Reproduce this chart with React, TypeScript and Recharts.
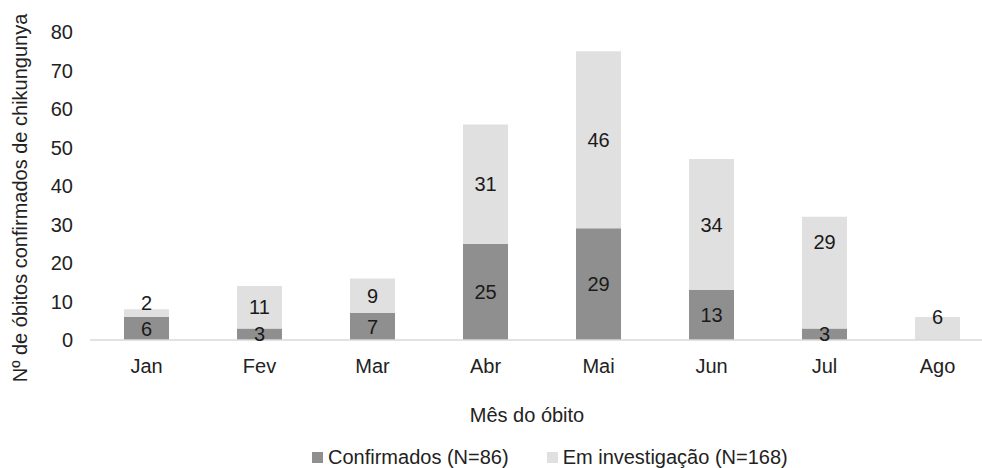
import { Bar, BarChart, LabelList, XAxis, YAxis } from 'recharts'

const months = ['Jan', 'Fev', 'Mar', 'Abr', 'Mai', 'Jun', 'Jul', 'Ago']
const confirmados = [6, 3, 7, 25, 29, 13, 3, 0]
const emInvestigacao = [2, 11, 9, 31, 46, 34, 29, 6]
const yTicks = [0, 10, 20, 30, 40, 50, 60, 70, 80]

const seriesNames = ['Confirmados (N=86)', 'Em investigação (N=168)']
const seriesColors = ['#8f8f8f', '#e0e0e0']

// hand-placed label nudges in the original (px, per month)
const confirmadosLabelShift = [0, 0, 0, 0, 0, 0, 0, 0]
const investigacaoLabelShift = [-10, 0, 0, 0, 0, 0, -31, -12]

const data = months.map((month, i) => ({
  month,
  confirmados: confirmados[i],
  investigacao: emInvestigacao[i]
}))

const FONT = '"Liberation Sans", Arial, sans-serif'
const TEXT = '#222222'

const makeLabel = (shifts: number[]) => (props: any) => {
  const { value, index } = props
  const vb = props.viewBox || props
  if (value === undefined || value === null || Number(value) === 0) return null
  const x = vb.x + vb.width / 2
  const y = vb.y + vb.height / 2 + (shifts[index] ?? 0)
  return (
    <text x={x} y={y} dy="0.355em" textAnchor="middle" fontSize={20} fill="#1a1a1a" fontFamily={FONT}>
      {value}
    </text>
  )
}

export default function App() {
  return (
    <div
      style={{
        position: 'absolute',
        left: 0,
        top: 0,
        width: 982,
        height: 468,
        overflow: 'hidden',
        background: '#ffffff',
        fontFamily: FONT
      }}
    >
      <BarChart
        width={1000}
        height={468}
        data={data}
        margin={{ top: 32, right: 6, left: 0, bottom: 68 }}
        style={{ fontFamily: FONT }}
      >
        <XAxis
          dataKey="month"
          tickLine={false}
          axisLine={{ stroke: '#d9d9d9', strokeWidth: 1.5 }}
          tick={{ fill: TEXT, fontSize: 20 }}
          tickMargin={13}
          height={60}
          interval={0}
          label={{
            content: () => (
              <text x={527} y={415} textAnchor="middle" dominantBaseline="central" fontSize={20} fill={TEXT}>
                Mês do óbito
              </text>
            )
          }}
        />
        <YAxis
          width={90}
          domain={[0, 80]}
          ticks={yTicks}
          tickLine={false}
          axisLine={false}
          tick={{ fill: TEXT, fontSize: 20 }}
          tickMargin={11}
          label={{
            content: () => (
              <text
                x={20}
                y={198}
                transform="rotate(-90 20 198)"
                textAnchor="middle"
                dominantBaseline="central"
                fontSize={20}
                fill={TEXT}
              >
                Nº de óbitos confirmados de chikungunya
              </text>
            )
          }}
        />
        <Bar dataKey="confirmados" name={seriesNames[0]} stackId="a" fill={seriesColors[0]} barSize={45} isAnimationActive={false}>
          <LabelList dataKey="confirmados" content={makeLabel(confirmadosLabelShift)} />
        </Bar>
        <Bar dataKey="investigacao" name={seriesNames[1]} stackId="a" fill={seriesColors[1]} barSize={45} isAnimationActive={false}>
          <LabelList dataKey="investigacao" content={makeLabel(investigacaoLabelShift)} />
        </Bar>
      </BarChart>
      <div
        style={{
          position: 'absolute',
          left: 312,
          top: 446,
          display: 'flex',
          alignItems: 'center',
          fontSize: 20,
          lineHeight: '22px',
          color: TEXT,
          whiteSpace: 'nowrap'
        }}
      >
        {seriesNames.map((name, i) => (
          <div key={name} style={{ display: 'flex', alignItems: 'center', marginRight: i === 0 ? 38 : 0 }}>
            <span style={{ width: 11, height: 11, background: seriesColors[i], marginRight: 5 }} />
            <span>{name}</span>
          </div>
        ))}
      </div>
    </div>
  )
}
